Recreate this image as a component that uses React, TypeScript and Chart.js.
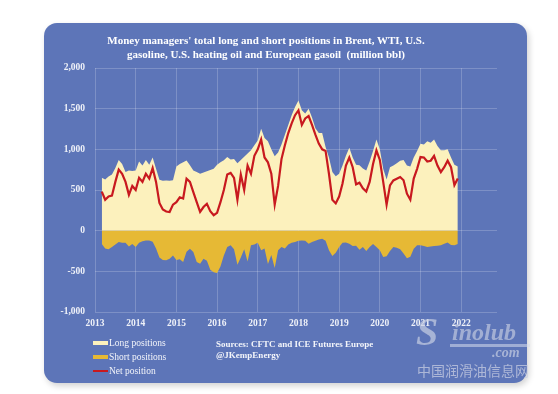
import React, { useEffect, useRef } from "react";
import { Chart, registerables } from "chart.js";

Chart.register(...registerables);

// Monthly observations (Mar 2013 – Dec 2021), million bbl
const MONTHS = [
  "2013-03", "2013-04", "2013-05", "2013-06", "2013-07", "2013-08", "2013-09", "2013-10", "2013-11", "2013-12",
  "2014-01", "2014-02", "2014-03", "2014-04", "2014-05", "2014-06", "2014-07", "2014-08", "2014-09", "2014-10", "2014-11", "2014-12",
  "2015-01", "2015-02", "2015-03", "2015-04", "2015-05", "2015-06", "2015-07", "2015-08", "2015-09", "2015-10", "2015-11", "2015-12",
  "2016-01", "2016-02", "2016-03", "2016-04", "2016-05", "2016-06", "2016-07", "2016-08", "2016-09", "2016-10", "2016-11", "2016-12",
  "2017-01", "2017-02", "2017-03", "2017-04", "2017-05", "2017-06", "2017-07", "2017-08", "2017-09", "2017-10", "2017-11", "2017-12",
  "2018-01", "2018-02", "2018-03", "2018-04", "2018-05", "2018-06", "2018-07", "2018-08", "2018-09", "2018-10", "2018-11", "2018-12",
  "2019-01", "2019-02", "2019-03", "2019-04", "2019-05", "2019-06", "2019-07", "2019-08", "2019-09", "2019-10", "2019-11", "2019-12",
  "2020-01", "2020-02", "2020-03", "2020-04", "2020-05", "2020-06", "2020-07", "2020-08", "2020-09", "2020-10", "2020-11", "2020-12",
  "2021-01", "2021-02", "2021-03", "2021-04", "2021-05", "2021-06", "2021-07", "2021-08", "2021-09", "2021-10", "2021-11", "2021-12",
];

const LONG = [
  650, 630, 665, 690, 770, 870, 820, 720, 740, 735,
  740, 850, 800, 870, 810, 900, 760, 625, 615, 618, 615, 620,
  790, 820, 840, 864, 803, 741, 720, 700, 715, 730, 745, 760,
  810, 840, 865, 905, 875, 880, 830, 870, 910, 950, 990, 1050,
  1110, 1254, 1140, 1100, 1000, 915, 960, 1060, 1180, 1300, 1420, 1520,
  1600, 1480, 1440, 1500, 1390, 1260, 1200, 1200, 1030, 900, 720, 670,
  700, 800, 920, 1020, 900, 810, 805, 765, 740, 850, 980, 1120,
  1000, 760, 630, 780, 800, 830, 860, 870, 800, 790, 900, 980,
  1070, 1060, 1100, 1080, 1120, 1040, 990, 990, 1000, 900, 810, 790,
];

const SHORT = [
  -165, -220, -230, -200, -170, -140, -150, -150, -195, -165,
  -200, -150, -130, -120, -120, -135, -220, -330, -360, -365, -345, -305,
  -360, -350, -385, -260, -221, -262, -385, -406, -344, -370, -480, -510,
  -520, -440, -305, -201, -180, -230, -420, -330, -230, -380, -180, -170,
  -150, -240, -220, -410, -300, -460, -240, -200, -220, -170, -150, -140,
  -125, -120, -125, -160, -140, -125, -110, -100, -125, -240, -310, -270,
  -200, -150, -145, -160, -190, -185, -235, -200, -250, -200, -165, -200,
  -242, -323, -315, -250, -201, -210, -230, -280, -340, -320, -221, -180,
  -180, -190, -201, -195, -190, -185, -180, -160, -147, -175, -180, -165,
];

const NET = [
  480, 380, 420, 430, 600, 750, 700, 600, 440, 550,
  500, 650, 600, 700, 640, 770, 600, 340, 260, 235, 229, 320,
  350, 410, 395, 640, 600, 475, 350, 230, 290, 330, 240, 190,
  220, 350, 500, 690, 710, 650, 380, 690, 500, 800, 700, 920,
  1000, 1120, 900, 840, 700, 320, 550, 880, 1050, 1200, 1320, 1420,
  1480, 1300, 1380, 1410, 1300, 1180, 1070, 1000, 980, 700, 380, 335,
  420, 580, 800, 900, 780, 570, 590, 520, 480, 600, 820, 987,
  870, 600, 320, 557, 618, 639, 660, 620, 455, 380, 640, 760,
  905, 900, 850, 860, 920, 800, 720, 780, 860, 780, 560, 640,
];

const X_YEARS = [2013, 2014, 2015, 2016, 2017, 2018, 2019, 2020, 2021, 2022];
const Y_TICKS = [-1000, -500, 0, 500, 1000, 1500, 2000];

const TITLE_LINES = [
  "Money managers' total long and short positions in Brent, WTI, U.S.",
  "gasoline, U.S. heating oil and European gasoil  (million bbl)",
];
const SOURCE_LINES = ["Sources: CFTC and ICE Futures Europe", "@JKempEnergy"];

const PANEL = "#5d75b8";
const LONG_COLOR = "#fcf1bd";
const SHORT_COLOR = "#e6b935";
const NET_COLOR = "#c8191f";
const SERIF = "'Liberation Serif', 'DejaVu Serif', serif";

function toYear(m: string): number {
  const [y, mo] = m.split("-").map(Number);
  return y + (mo - 1) / 12;
}

export default function App() {
  const ref = useRef<HTMLCanvasElement | null>(null);

  useEffect(() => {
    if (!ref.current) return;
    const xs = MONTHS.map(toYear);
    const pts = (arr: number[]) => arr.map((v, i) => ({ x: xs[i], y: v }));
    const tickFont = { family: SERIF, size: 9.5, weight: "bold" as const };
    const chart = new Chart(ref.current, {
      type: "line",
      data: {
        datasets: [
          {
            label: "Net position",
            data: pts(NET),
            borderColor: NET_COLOR,
            borderWidth: 2.2,
            pointRadius: 0,
            fill: false,
            tension: 0,
            order: 0,
          },
          {
            label: "Short positions",
            data: pts(SHORT),
            borderWidth: 0,
            borderColor: SHORT_COLOR,
            backgroundColor: SHORT_COLOR,
            pointRadius: 0,
            fill: "origin",
            order: 1,
          },
          {
            label: "Long positions",
            data: pts(LONG),
            borderWidth: 0,
            borderColor: LONG_COLOR,
            backgroundColor: LONG_COLOR,
            pointRadius: 0,
            fill: "origin",
            order: 2,
          },
        ],
      },
      options: {
        responsive: false,
        animation: false,
        devicePixelRatio: 1,
        layout: { padding: { top: 45, right: 30, bottom: 51, left: 0 } },
        plugins: {
          legend: { display: false },
          title: { display: false },
          tooltip: { enabled: false },
        },
        scales: {
          x: {
            type: "linear",
            min: 2013,
            max: 2022.88,
            afterFit: (s: any) => {
              s.height = 20;
            },
            afterBuildTicks: (s: any) => {
              s.ticks = X_YEARS.map((v) => ({ value: v }));
            },
            grid: { color: "rgba(255,255,255,0.2)", lineWidth: 1, drawTicks: false },
            border: { display: false },
            ticks: {
              autoSkip: false,
              maxRotation: 0,
              padding: 6,
              color: "rgba(255,255,255,0.9)",
              font: tickFont,
              callback: (v: any) => String(v),
            },
          },
          y: {
            min: -1000,
            max: 2000,
            afterFit: (s: any) => {
              s.width = 51;
            },
            afterBuildTicks: (s: any) => {
              s.ticks = Y_TICKS.map((v) => ({ value: v }));
            },
            grid: { color: "rgba(255,255,255,0.2)", lineWidth: 1, drawTicks: false },
            border: { display: false },
            ticks: {
              padding: 10,
              color: "rgba(255,255,255,0.9)",
              font: tickFont,
              callback: (v: any) => Number(v).toLocaleString("en-US"),
            },
          },
        },
      },
    });
    return () => chart.destroy();
  }, []);

  const legendText: React.CSSProperties = {
    position: "absolute",
    left: 109,
    fontFamily: SERIF,
    fontSize: 9.5,
    color: "rgba(255,255,255,0.92)",
    lineHeight: "12px",
    whiteSpace: "nowrap",
  };

  return (
    <div style={{ position: "absolute", left: 0, top: 0, width: 558, height: 394, background: "#ffffff", overflow: "hidden" }}>
      <div
        style={{
          position: "absolute",
          left: 44,
          top: 23,
          width: 483,
          height: 360,
          background: PANEL,
          borderRadius: 13,
          boxShadow: "2px 3px 6px rgba(0,0,0,0.18)",
        }}
      />
      <canvas ref={ref} width={483} height={360} style={{ position: "absolute", left: 44, top: 23, width: 483, height: 360 }} />
      <div
        style={{
          position: "absolute",
          left: 0,
          top: 33,
          width: 532,
          textAlign: "center",
          fontFamily: SERIF,
          fontWeight: "bold",
          fontSize: 11,
          lineHeight: "14px",
          color: "#ffffff",
          whiteSpace: "pre",
        }}
      >
        <div>{TITLE_LINES[0]}</div>
        <div>{TITLE_LINES[1]}</div>
      </div>

      <div style={{ position: "absolute", left: 93, top: 341, width: 15, height: 4, background: LONG_COLOR }} />
      <div style={{ ...legendText, top: 337 }}>Long positions</div>
      <div style={{ position: "absolute", left: 93, top: 355, width: 15, height: 4, background: SHORT_COLOR }} />
      <div style={{ ...legendText, top: 351 }}>Short positions</div>
      <div style={{ position: "absolute", left: 93, top: 370, width: 15, height: 2, background: NET_COLOR }} />
      <div style={{ ...legendText, top: 365 }}>Net position</div>

      <div
        style={{
          position: "absolute",
          left: 216,
          top: 339,
          fontFamily: SERIF,
          fontWeight: "bold",
          fontSize: 9,
          lineHeight: "11px",
          color: "rgba(255,255,255,0.92)",
          whiteSpace: "nowrap",
        }}
      >
        <div>{SOURCE_LINES[0]}</div>
        <div>{SOURCE_LINES[1]}</div>
      </div>

      <div style={{ position: "absolute", left: 416, top: 312, fontFamily: SERIF, fontStyle: "italic", fontWeight: "bold", fontSize: 40, color: "rgba(200,206,226,0.7)", lineHeight: "40px" }}>S</div>
      <div style={{ position: "absolute", left: 452, top: 320, fontFamily: SERIF, fontStyle: "italic", fontWeight: "bold", fontSize: 24, color: "rgba(200,206,226,0.65)", lineHeight: "24px", whiteSpace: "nowrap" }}>inolub</div>
      <div style={{ position: "absolute", left: 450, top: 344, width: 80, height: 3, background: "rgba(215,220,236,0.55)" }} />
      <div style={{ position: "absolute", left: 492, top: 346, fontFamily: SERIF, fontStyle: "italic", fontWeight: "bold", fontSize: 14, color: "rgba(200,206,226,0.7)", lineHeight: "14px" }}>.com</div>
      <div style={{ position: "absolute", left: 417, top: 362, fontFamily: "'Noto Sans CJK SC', sans-serif", fontSize: 14, color: "rgba(200,206,226,0.75)", lineHeight: "16px", whiteSpace: "nowrap" }}>中国润滑油信息网</div>
    </div>
  );
}
